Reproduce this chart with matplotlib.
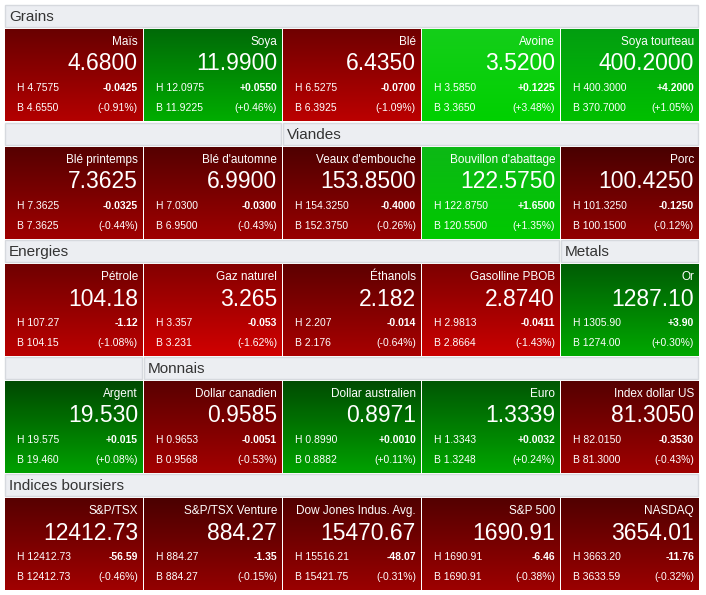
import matplotlib
matplotlib.use("Agg")
import matplotlib.pyplot as plt
import numpy as np
from matplotlib.patches import Rectangle

plt.rcParams['font.family'] = ['Liberation Sans', 'DejaVu Sans']

names = [["Maïs", "Soya", "Blé", "Avoine", "Soya tourteau"],
         ["Blé printemps", "Blé d'automne", "Veaux d'embouche", "Bouvillon d'abattage", "Porc"],
         ["Pétrole", "Gaz naturel", "Éthanols", "Gasolline PBOB", "Or"],
         ["Argent", "Dollar canadien", "Dollar australien", "Euro", "Index dollar US"],
         ["S&P/TSX", "S&P/TSX Venture", "Dow Jones Indus. Avg.", "S&P 500", "NASDAQ"]]
prices = [["4.6800", "11.9900", "6.4350", "3.5200", "400.2000"],
          ["7.3625", "6.9900", "153.8500", "122.5750", "100.4250"],
          ["104.18", "3.265", "2.182", "2.8740", "1287.10"],
          ["19.530", "0.9585", "0.8971", "1.3339", "81.3050"],
          ["12412.73", "884.27", "15470.67", "1690.91", "3654.01"]]
highs = [["4.7575", "12.0975", "6.5275", "3.5850", "400.3000"],
         ["7.3625", "7.0300", "154.3250", "122.8750", "101.3250"],
         ["107.27", "3.357", "2.207", "2.9813", "1305.90"],
         ["19.575", "0.9653", "0.8990", "1.3343", "82.0150"],
         ["12412.73", "884.27", "15516.21", "1690.91", "3663.20"]]
lows = [["4.6550", "11.9225", "6.3925", "3.3650", "370.7000"],
        ["7.3625", "6.9500", "152.3750", "120.5500", "100.1500"],
        ["104.15", "3.231", "2.176", "2.8664", "1274.00"],
        ["19.460", "0.9568", "0.8882", "1.3248", "81.3000"],
        ["12412.73", "884.27", "15421.75", "1690.91", "3633.59"]]
changes = [["-0.0425", "+0.0550", "-0.0700", "+0.1225", "+4.2000"],
           ["-0.0325", "-0.0300", "-0.4000", "+1.6500", "-0.1250"],
           ["-1.12", "-0.053", "-0.014", "-0.0411", "+3.90"],
           ["+0.015", "-0.0051", "+0.0010", "+0.0032", "-0.3530"],
           ["-56.59", "-1.35", "-48.07", "-6.46", "-11.76"]]
pcts = [[-0.91, 0.46, -1.09, 3.48, 1.05],
        [-0.44, -0.43, -0.26, 1.35, -0.12],
        [-1.08, -1.62, -0.64, -1.43, 0.30],
        [0.08, -0.53, 0.11, 0.24, -0.43],
        [-0.46, -0.15, -0.31, -0.38, -0.32]]
headers = [[(0, 5, "Grains")],
           [(0, 2, ""), (2, 5, "Viandes")],
           [(0, 4, "Energies"), (4, 5, "Metals")],
           [(0, 1, ""), (1, 5, "Monnais")],
           [(0, 5, "Indices boursiers")]]

W, H = 706, 595
fig = plt.figure(figsize=(W/100, H/100), dpi=100)
ax = fig.add_axes([0, 0, 1, 1])
ax.set_xlim(0, W); ax.set_ylim(H, 0); ax.axis('off')

x0, cw = 5, 139
tile_tops = [29, 147, 264, 381, 498]
th = 92
hh = 22

def colors(p):
    t = min(abs(p) / 1.6, 1.0)
    if p < 0:
        top = np.array([0.27 + 0.25*t, 0.0, 0.0])
        bot = np.array([0.55 + 0.27*t, 0.0, 0.0])
    else:
        top = np.array([0.0 + 0.2*max(t-0.6, 0), 0.26 + 0.55*t, 0.0 + 0.1*t])
        bot = np.array([0.0, 0.62 + 0.2*t, 0.0])
    return top, bot

for r in range(5):
    yt = tile_tops[r]
    hy = yt - hh - 2
    for c0, c1, lab in headers[r]:
        xa = x0 + c0*cw
        xb = x0 + c1*cw - 2
        ax.add_patch(Rectangle((xa, hy), xb - xa, hh, facecolor='#eceef2',
                               edgecolor='#d6d9de', lw=1))
        ax.text(xa + 4, hy + hh/2 + 1, lab, fontsize=11, color='#333333',
                va='center', ha='left')
    for c in range(5):
        xa = x0 + c*cw
        top, bot = colors(pcts[r][c])
        g = np.linspace(0, 1, 64)[:, None, None]
        img = top[None, None, :]*(1-g) + bot[None, None, :]*g
        ax.imshow(img, extent=(xa, xa + cw - 1, yt + th, yt), aspect='auto',
                  interpolation='bilinear', zorder=1)
        xr = xa + cw - 6
        ax.text(xr, yt + 13, names[r][c], fontsize=8.5, color='white', ha='right', va='center', zorder=2)
        ax.text(xr, yt + 35, prices[r][c], fontsize=16.5, color='white', ha='right', va='center', zorder=2)
        ax.text(xa + 12, yt + 59, "H " + highs[r][c], fontsize=7.5, color='white', ha='left', va='center', zorder=2)
        ax.text(xa + 12, yt + 79, "B " + lows[r][c], fontsize=7.5, color='white', ha='left', va='center', zorder=2)
        ax.text(xr, yt + 59, changes[r][c], fontsize=7.5, color='white', ha='right', va='center', weight='bold', zorder=2)
        ax.text(xr, yt + 79, "(%+.2f%%)" % pcts[r][c], fontsize=7.5, color='white', ha='right', va='center', zorder=2)

ax.set_xlim(0, W); ax.set_ylim(H, 0)
fig.savefig("out.png", dpi=100)
